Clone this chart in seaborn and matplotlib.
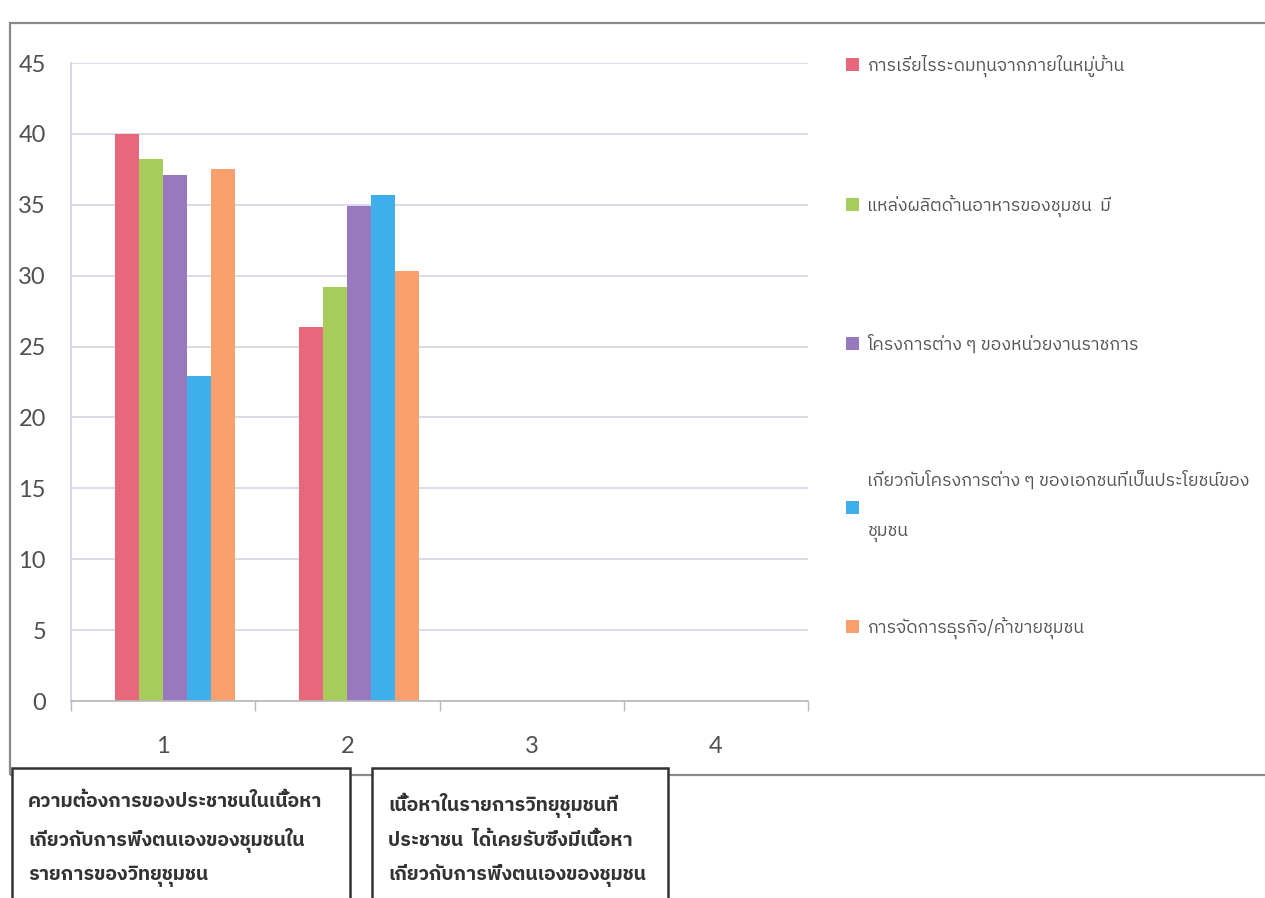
import numpy as np
import pandas as pd
import matplotlib
matplotlib.use("Agg")
import matplotlib.pyplot as plt
import seaborn as sns
from matplotlib import font_manager
from matplotlib.ft2font import FT2Font
from matplotlib.patches import Rectangle

# ---- data ----
categories = ['1', '2', '3', '4']
series_names = [
    'การเรี่ยไรระดมทุนจากภายในหมู่บ้าน',
    'แหล่งผลิตด้านอาหารของชุมชน  มี',
    'โครงการต่าง ๆ ของหน่วยงานราชการ',
    'เกี่ยวกับโครงการต่าง ๆ ของเอกชนที่เป็นประโยชน์ของ\nชุมชน',
    'การจัดการธุรกิจ/ค้าขายชุมชน',
]
# the source chart has an empty first series, which shifts the bars right
blank_series = ' '
group1_values = [40.0, 38.2, 37.1, 22.9, 37.5]
group2_values = [26.4, 29.2, 34.9, 35.7, 30.3]
colors = ['#E8677B', '#A6CD5C', '#9878BE', '#3EAFEB', '#F9A06E']
yticks = [0, 5, 10, 15, 20, 25, 30, 35, 40, 45]

box1_text = 'ความต้องการของประชาชนในเนื้อหา\nเกี่ยวกับการพึ่งตนเองของชุมชนใน\nรายการของวิทยุชุมชน'
box2_text = 'เนื้อหาในรายการวิทยุชุมชนที่\nประชาชน  ได้เคยรับซึ่งมีเนื้อหา\nเกี่ยวกับการพึ่งตนเองของชุมชน'


def find_thai_font():
    """Pick an installed family that has Thai glyphs."""
    found = []
    for f in font_manager.fontManager.ttflist:
        try:
            cmap = FT2Font(f.fname).get_charmap()
        except Exception:
            continue
        if 0x0E01 in cmap and 0x0E49 in cmap:
            found.append(f.name)
    for name in found:
        if 'Thai' in name:
            return name
    return found[0] if found else 'DejaVu Sans'


sns.set_theme(style="white")
thai_font = find_thai_font()
plt.rcParams['font.family'] = [thai_font, 'DejaVu Sans']

df = pd.DataFrame({
    'category': ['1'] * 5 + ['2'] * 5,
    'series': series_names * 2,
    'value': group1_values + group2_values,
})

W, H = 1265, 898
fig = plt.figure(figsize=(W / 100, H / 100), dpi=100)
fig.patch.set_facecolor('white')

# outer chart frame (Excel chart area)
fig.patches.append(Rectangle((10 / W, 1 - 775 / H), 1.0, (775 - 23) / H,
                             transform=fig.transFigure, fill=False,
                             edgecolor='#8a8a8a', linewidth=1.6))

ax = fig.add_axes([71 / W, 1 - 701 / H, 737 / W, 638 / H])
sns.barplot(data=df, x='category', y='value', hue='series',
            order=categories, hue_order=[blank_series] + series_names,
            palette=['white'] + colors, width=0.78, gap=0, saturation=1,
            dodge=True, linewidth=0, ax=ax)

ax.set_xlim(-0.5, 3.5)
ax.set_ylim(0, 45)
ax.set_yticks(yticks)
ax.yaxis.grid(True, color='#cfd2e2', linewidth=1.1)
ax.set_axisbelow(True)
ax.set_xlabel('')
ax.set_ylabel('')

for side in ['top', 'right']:
    ax.spines[side].set_visible(False)
ax.spines['left'].set_color('#cfd2e2')
ax.spines['bottom'].set_color('#b8b8b8')
ax.spines['bottom'].set_linewidth(1.2)

num_font = ['Lato', 'DejaVu Sans']
ax.tick_params(axis='y', length=8, color='#cfd2e2', pad=10, labelsize=17,
               labelcolor='#505050')
ax.set_xticks(range(len(categories)))
ax.set_xticklabels(categories)
ax.set_xticks([-0.5, 0.5, 1.5, 2.5, 3.5], minor=True)
ax.tick_params(axis='x', which='major', length=0, pad=25, labelsize=17,
               labelcolor='#505050')
ax.tick_params(axis='x', which='minor', length=7, color='#b8b8b8', bottom=True)
for lab in ax.get_xticklabels() + ax.get_yticklabels():
    lab.set_fontfamily(num_font)

# legend on the right, without the blank series; the last entry sits in
# its own legend so it can keep the uneven spacing of the original
handles, labels = ax.get_legend_handles_labels()
keep = [(h, l) for h, l in zip(handles, labels) if l in series_names]
leg_kw = dict(loc='upper left', bbox_transform=fig.transFigure, frameon=False,
              fontsize=12.8, labelcolor='#555555', handlelength=0.75,
              handleheight=0.75, handletextpad=0.45, labelspacing=6.6,
              borderaxespad=0)
leg1 = ax.legend([h for h, _ in keep[:4]], [l for _, l in keep[:4]],
                 bbox_to_anchor=(839 / W, 1 - 48 / H), **leg_kw)
for t in leg1.get_texts():
    t.set_linespacing(3.3)
ax.add_artist(leg1)
ax.legend([keep[4][0]], [keep[4][1]],
          bbox_to_anchor=(839 / W, 1 - 610 / H), **leg_kw)

# the two caption boxes under the chart
for x0, x1, txt in [(12, 350, box1_text), (372, 668, box2_text)]:
    fig.patches.append(Rectangle((x0 / W, -0.05), (x1 - x0) / W,
                                 0.05 + (H - 768) / H,
                                 transform=fig.transFigure, facecolor='white',
                                 edgecolor='#333333', linewidth=1.8))
    fig.text((x0 + 16) / W, 1 - 840 / H, txt, ha='left', va='center',
             fontsize=14, fontweight='bold', color='#333333',
             linespacing=1.9)

fig.savefig('out.png', dpi=100)
